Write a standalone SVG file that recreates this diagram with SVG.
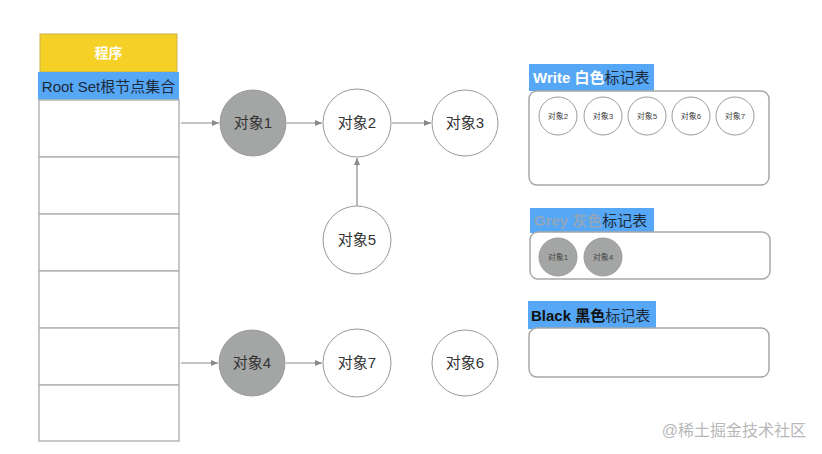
<svg xmlns="http://www.w3.org/2000/svg" width="822" height="454" viewBox="0 0 822 454">
<defs>
<marker id="arr" markerWidth="8" markerHeight="8" refX="7" refY="4" orient="auto" markerUnits="userSpaceOnUse">
<path d="M0,1 L7,4 L0,7 Z" fill="#888"/>
</marker>
<style>
text{font-family:"Liberation Sans","Noto Sans CJK SC",sans-serif;}
.cell{fill:#fff;stroke:#b5b5b5;stroke-width:1.5;}
.node{fill:#fff;stroke:#9a9a9a;stroke-width:1;}
.grey{fill:#a4a6a5;stroke:#9a9a9a;stroke-width:1;}
.nt{font-size:15px;fill:#333;text-anchor:middle;}
.st{font-size:8px;fill:#444;text-anchor:middle;}
.edge{stroke:#8a8a8a;stroke-width:1.2;fill:none;marker-end:url(#arr);}
.table{fill:#fff;stroke:#a8a8a8;stroke-width:1.5;}
.hdr{fill:#56a7f5;}
.ht{font-size:15px;}
</style>
</defs>
<rect width="822" height="454" fill="#fff"/>

<g id="program">
<rect x="40" y="34" width="137" height="38" fill="#f5d128" stroke="#c9b04a" stroke-width="1"/>
<text x="108.5" y="58" font-size="14" font-weight="bold" fill="#fff" text-anchor="middle">程序</text>
</g>
<g id="rootset">
<rect x="38" y="72" width="141" height="28" class="hdr"/>
<text x="108.5" y="92" font-size="15" fill="#1d2a3a" text-anchor="middle">Root Set根节点集合</text>
<rect x="39" y="100" width="140" height="57" class="cell"/>
<rect x="39" y="157" width="140" height="57" class="cell"/>
<rect x="39" y="214" width="140" height="57" class="cell"/>
<rect x="39" y="271" width="140" height="57" class="cell"/>
<rect x="39" y="328" width="140" height="57" class="cell"/>
<rect x="39" y="385" width="140" height="56" class="cell"/>
</g>

<g id="connectors">
<line x1="181" y1="123" x2="219" y2="123" class="edge"/>
<line x1="287" y1="123" x2="322" y2="123" class="edge"/>
<line x1="392" y1="123" x2="431" y2="123" class="edge"/>
<line x1="357" y1="206" x2="357" y2="158" class="edge"/>
<line x1="181" y1="363" x2="218" y2="363" class="edge"/>
<line x1="286" y1="363" x2="322" y2="363" class="edge"/>
</g>

<g id="obj1"><circle cx="253" cy="123" r="33" class="grey"/><text x="253" y="128" class="nt">对象1</text></g>
<g id="obj2"><circle cx="357" cy="123" r="34" class="node"/><text x="357" y="128" class="nt">对象2</text></g>
<g id="obj3"><circle cx="465" cy="123" r="33" class="node"/><text x="465" y="128" class="nt">对象3</text></g>
<g id="obj5"><circle cx="357" cy="240" r="34" class="node"/><text x="357" y="245" class="nt">对象5</text></g>
<g id="obj4"><circle cx="252" cy="363" r="33" class="grey"/><text x="252" y="368" class="nt">对象4</text></g>
<g id="obj7"><circle cx="357" cy="363" r="34" class="node"/><text x="357" y="368" class="nt">对象7</text></g>
<g id="obj6"><circle cx="465" cy="363" r="33" class="node"/><text x="465" y="368" class="nt">对象6</text></g>

<g id="white-table">
<rect x="529" y="64" width="125" height="27" class="hdr"/>
<text x="533" y="83" class="ht"><tspan font-weight="bold" fill="#fff">Write 白色</tspan><tspan fill="#1d2a3a">标记表</tspan></text>
<rect x="529" y="91" width="240" height="94" rx="8" class="table"/>
<circle cx="558" cy="116" r="19" class="node"/><text x="558" y="119" class="st">对象2</text>
<circle cx="603" cy="116" r="19" class="node"/><text x="603" y="119" class="st">对象3</text>
<circle cx="647" cy="116" r="19" class="node"/><text x="647" y="119" class="st">对象5</text>
<circle cx="691" cy="116" r="19" class="node"/><text x="691" y="119" class="st">对象6</text>
<circle cx="735" cy="116" r="19" class="node"/><text x="735" y="119" class="st">对象7</text>
</g>

<g id="grey-table">
<rect x="530" y="208" width="124" height="25" class="hdr"/>
<text x="534" y="226" class="ht"><tspan font-weight="bold" fill="#8fa6bd">Grey 灰色</tspan><tspan fill="#1d2a3a">标记表</tspan></text>
<rect x="530" y="232" width="240" height="47" rx="8" class="table"/>
<circle cx="558" cy="257" r="19" class="grey"/><text x="558" y="260" class="st">对象1</text>
<circle cx="603" cy="257" r="19" class="grey"/><text x="603" y="260" class="st">对象4</text>
</g>

<g id="black-table">
<rect x="528" y="301" width="128" height="28" class="hdr"/>
<text x="531" y="321" class="ht"><tspan font-weight="bold" fill="#111">Black 黑色</tspan><tspan fill="#1d2a3a">标记表</tspan></text>
<rect x="529" y="328" width="240" height="49" rx="8" class="table"/>
</g>

<text x="806" y="436" font-size="16" fill="#b8b8b8" text-anchor="end">@稀土掘金技术社区</text>
</svg>
